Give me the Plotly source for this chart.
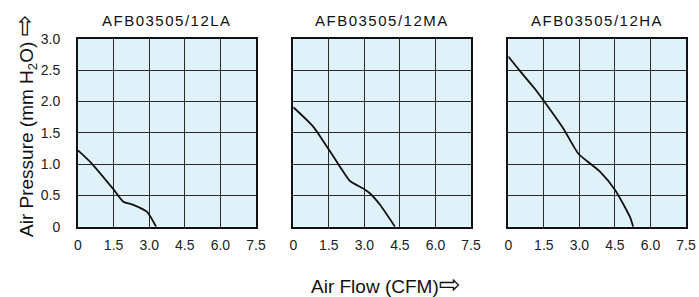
import plotly.graph_objects as go

titles = ["AFB03505/12LA", "AFB03505/12MA", "AFB03505/12HA"]

la_flow = [0.0, 0.58, 1.49, 1.91, 2.33, 2.90, 3.29]
la_pres = [1.22, 1.01, 0.60, 0.40, 0.35, 0.24, 0.0]

ma_flow = [0.0, 0.84, 1.52, 1.97, 2.39, 2.95, 3.24, 3.66, 4.29]
ma_pres = [1.91, 1.60, 1.22, 0.96, 0.73, 0.61, 0.53, 0.35, 0.0]

ha_flow = [0.0, 0.49, 1.13, 1.48, 2.32, 2.95, 3.45, 3.87, 4.50, 5.13, 5.27]
ha_pres = [2.72, 2.49, 2.20, 2.02, 1.57, 1.17, 1.01, 0.88, 0.59, 0.16, 0.0]

x_ticks = [0, 1.5, 3.0, 4.5, 6.0, 7.5]
x_ticktext = ["0", "1.5", "3.0", "4.5", "6.0", "7.5"]
y_ticks = [0, 0.5, 1.0, 1.5, 2.0, 2.5, 3.0]
y_ticktext = ["0", "0.5", "1.0", "1.5", "2.0", "2.5", "3.0"]

series = [(la_flow, la_pres), (ma_flow, ma_pres), (ha_flow, ha_pres)]

W, H = 699, 297
px_x = [(78, 256), (293.3, 471), (508.3, 686)]
py = (39, 226.7)
ydom = [1 - py[1] / H, 1 - py[0] / H]

fig = go.Figure()
font_family = "Liberation Sans, Arial, sans-serif"

for i, ((fx, fy), (x0, x1)) in enumerate(zip(series, px_x)):
    sx = "" if i == 0 else str(i + 1)
    fig.add_trace(go.Scatter(
        x=fx, y=fy, mode="lines", line=dict(color="#111111", width=1.8, shape="spline", smoothing=0.6),
        xaxis="x" + sx, yaxis="y" + sx, showlegend=False, hoverinfo="skip"))
    xd = [x0 / W, x1 / W]
    fig.layout["xaxis" + sx] = dict(
        domain=xd, range=[0, 7.5], tickvals=x_ticks, ticktext=x_ticktext,
        showgrid=True, gridcolor="#2a2a2a", gridwidth=1.3, zeroline=False,
        showline=True, linecolor="#111111", linewidth=1.8, mirror=True,
        ticks="outside", ticklen=5, tickcolor="rgba(0,0,0,0)",
        tickfont=dict(family=font_family, size=14, color="#222222"),
        anchor="y" + sx, fixedrange=True, automargin=False)
    fig.layout["yaxis" + sx] = dict(
        domain=ydom, range=[0, 3.0], tickvals=y_ticks, ticktext=y_ticktext,
        showgrid=True, gridcolor="#2a2a2a", gridwidth=1.3, zeroline=False,
        showline=True, linecolor="#111111", linewidth=1.8, mirror=True,
        ticks="outside", ticklen=13, tickcolor="rgba(0,0,0,0)",
        showticklabels=(i == 0),
        tickfont=dict(family=font_family, size=14, color="#222222"),
        anchor="x" + sx, fixedrange=True, automargin=False)
    fig.add_annotation(
        x=(xd[0] + xd[1]) / 2, y=1 - 20 / H, xref="paper", yref="paper",
        text="<span style='letter-spacing:1.5px'>" + titles[i] + "</span>",
        showarrow=False, xanchor="center", yanchor="middle",
        font=dict(family=font_family, size=15, color="#111111"))

fig.add_annotation(
    x=24 / W, y=1 - 126 / H, xref="paper", yref="paper",
    text="Air Pressure (mm H<sub>2</sub>O) <span style='font-family:DejaVu Sans;font-size:26px'>\u21e8</span>",
    textangle=-90, showarrow=False,
    xanchor="center", yanchor="middle",
    font=dict(family=font_family, size=19, color="#111111"))

fig.add_annotation(
    x=386 / W, y=1 - 284 / H, xref="paper", yref="paper",
    text="Air Flow (CFM)<span style='font-family:DejaVu Sans;font-size:26px'>\u21e8</span>",
    showarrow=False,
    xanchor="center", yanchor="middle",
    font=dict(family=font_family, size=19, color="#111111"))

fig.update_layout(
    width=W, height=H, margin=dict(l=0, r=0, t=0, b=0),
    paper_bgcolor="white", plot_bgcolor="#E0F2F9",
)

fig.write_html("out.html", config={"displayModeBar": False},
               post_script="document.body.style.margin='0px';document.body.style.overflow='hidden';")
